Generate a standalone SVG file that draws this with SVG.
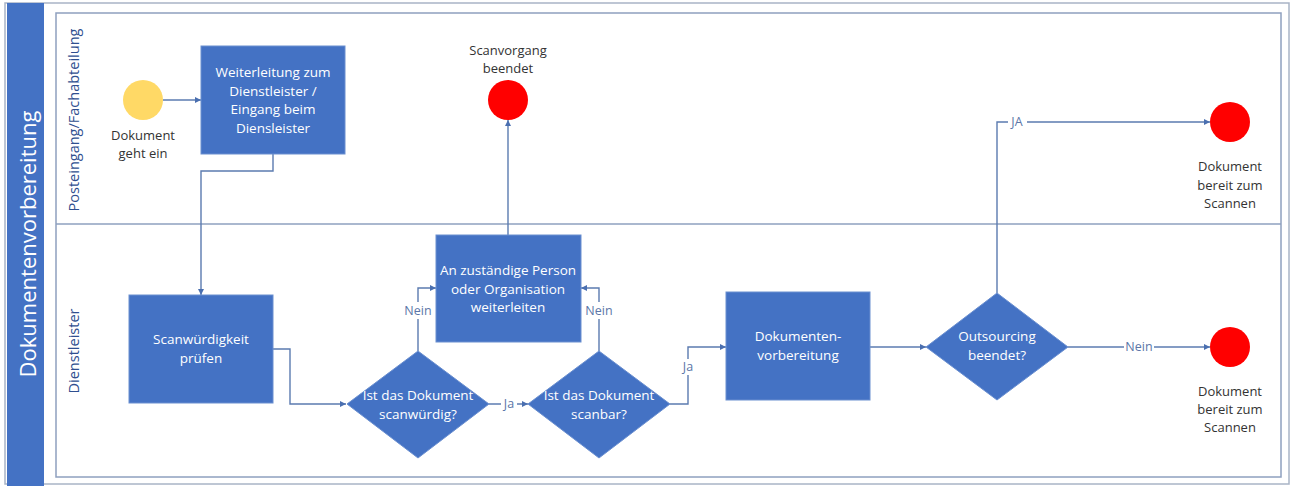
<svg xmlns="http://www.w3.org/2000/svg" width="1292" height="486" viewBox="0 0 1292 486">
<style>
.pool{fill:none;stroke:#8EA0BF;stroke-width:1.5}
.outer{fill:none;stroke:#A9B4C6;stroke-width:1.5}
.band{fill:#4472C4}
.box{fill:#4472C4;stroke:#6A8FD0;stroke-width:1}
.t{font-family:"Open Sans","Liberation Sans",sans-serif;font-size:13.5px;fill:#ffffff;text-anchor:middle}
.d{font-family:"Open Sans","Liberation Sans",sans-serif;font-size:13px;fill:#333333;text-anchor:middle}
.lane{font-family:"Open Sans","Liberation Sans",sans-serif;font-size:14.5px;fill:#2F4F8F;text-anchor:middle}
.lbl{font-family:"Open Sans","Liberation Sans",sans-serif;font-size:12.5px;fill:#5B76A8;text-anchor:middle}
.c{fill:none;stroke:#5B7BB0;stroke-width:1.4}
.bg{fill:#ffffff}
</style>
<defs>
<marker id="arr" viewBox="0 0 10 10" refX="10" refY="5" markerWidth="6" markerHeight="6" orient="auto" markerUnits="userSpaceOnUse">
<path d="M0,0 L10,5 L0,10 z" fill="#4A6FB0"/>
</marker>
</defs>
<rect x="0" y="0" width="1292" height="486" fill="#ffffff"/>
<g id="pool">
<rect x="5" y="3" width="1284" height="481" class="outer"/>
<rect x="7" y="3" width="37" height="483" class="band"/>
<text transform="translate(27,244) rotate(-90)" dominant-baseline="central" font-family="Open Sans, Liberation Sans, sans-serif" font-size="22" fill="#ffffff" text-anchor="middle">Dokumentenvorbereitung</text>
<rect x="56" y="13" width="1225" height="464" class="pool"/>
<line x1="56" y1="224" x2="1281" y2="224" class="pool"/>
</g>
<g id="lane1"><text transform="translate(73,120) rotate(-90)" dominant-baseline="central" class="lane">Posteingang/Fachabteilung</text></g>
<g id="lane2"><text transform="translate(73,351) rotate(-90)" dominant-baseline="central" class="lane">Dienstleister</text></g>

<g id="connectors">
<path d="M163,100 L201,100" class="c" marker-end="url(#arr)"/>
<path d="M273,154 L273,171 L201,171 L201,295" class="c" marker-end="url(#arr)"/>
<path d="M273,349 L290,349 L290,404 L346,404" class="c" marker-end="url(#arr)"/>
<path d="M418,351 L418,288 L436,288" class="c" marker-end="url(#arr)"/>
<path d="M599,351 L599,288 L581,288" class="c" marker-end="url(#arr)"/>
<path d="M489,404 L528,404" class="c" marker-end="url(#arr)"/>
<path d="M670,404 L688,404 L688,347 L726,347" class="c" marker-end="url(#arr)"/>
<path d="M508,235 L508,120" class="c" marker-end="url(#arr)"/>
<path d="M870,347 L926,347" class="c" marker-end="url(#arr)"/>
<path d="M997,293 L997,122 L1210,122" class="c" marker-end="url(#arr)"/>
<path d="M1068,347 L1210,347" class="c" marker-end="url(#arr)"/>
<rect x="404" y="302" width="28" height="17" class="bg"/>
<text x="418" y="315" class="lbl">Nein</text>
<rect x="585" y="302" width="28" height="17" class="bg"/>
<text x="599" y="315" class="lbl">Nein</text>
<rect x="501" y="397" width="16" height="14" class="bg"/>
<text x="509" y="408" class="lbl">Ja</text>
<rect x="681" y="359" width="14" height="16" class="bg"/>
<text x="688" y="371" class="lbl">Ja</text>
<rect x="1008" y="115" width="19" height="14" class="bg"/>
<text x="1017" y="126" class="lbl">JA</text>
<rect x="1124" y="340" width="30" height="14" class="bg"/>
<text x="1139" y="351" class="lbl">Nein</text>
</g>

<g id="start">
<circle cx="143" cy="100" r="20" fill="#FFD966"/>
<text x="143" y="140" class="d">Dokument</text>
<text x="143" y="158" class="d">geht ein</text>
</g>
<g id="weiterleitung">
<rect x="201" y="46" width="144" height="108" class="box"/>
<text x="273" y="77" class="t">Weiterleitung zum</text>
<text x="273" y="96" class="t">Dienstleister /</text>
<text x="273" y="114" class="t">Eingang beim</text>
<text x="273" y="133" class="t">Diensleister</text>
</g>
<g id="scanwuerdigkeit">
<rect x="129" y="295" width="144" height="108" class="box"/>
<text x="201" y="344" class="t">Scanwürdigkeit</text>
<text x="201" y="363" class="t">prüfen</text>
</g>
<g id="d1">
<path d="M347,404 L418,351 L489,404 L418,458 z" class="box"/>
<text x="418" y="400" class="t">Ist das Dokument</text>
<text x="418" y="419" class="t">scanwürdig?</text>
</g>
<g id="d2">
<path d="M528,404 L599,351 L670,404 L599,458 z" class="box"/>
<text x="599" y="400" class="t">Ist das Dokument</text>
<text x="599" y="419" class="t">scanbar?</text>
</g>
<g id="weiterleiten">
<rect x="436" y="235" width="145" height="107" class="box"/>
<text x="508" y="275" class="t">An zuständige Person</text>
<text x="508" y="294" class="t">oder Organisation</text>
<text x="508" y="312" class="t">weiterleiten</text>
</g>
<g id="scanvorgang">
<circle cx="508" cy="100" r="20" fill="#FF0000"/>
<text x="508" y="55" class="d">Scanvorgang</text>
<text x="508" y="73" class="d">beendet</text>
</g>
<g id="vorbereitung">
<rect x="726" y="292" width="144" height="108" class="box"/>
<text x="798" y="341" class="t">Dokumenten-</text>
<text x="798" y="360" class="t">vorbereitung</text>
</g>
<g id="d3">
<path d="M926,347 L997,293 L1068,347 L997,400 z" class="box"/>
<text x="997" y="341" class="t">Outsourcing</text>
<text x="997" y="360" class="t">beendet?</text>
</g>
<g id="end1">
<circle cx="1230" cy="122" r="20" fill="#FF0000"/>
<text x="1230" y="171" class="d">Dokument</text>
<text x="1230" y="190" class="d">bereit zum</text>
<text x="1230" y="208" class="d">Scannen</text>
</g>
<g id="end2">
<circle cx="1230" cy="347" r="20" fill="#FF0000"/>
<text x="1230" y="396" class="d">Dokument</text>
<text x="1230" y="414" class="d">bereit zum</text>
<text x="1230" y="432" class="d">Scannen</text>
</g>
</svg>
